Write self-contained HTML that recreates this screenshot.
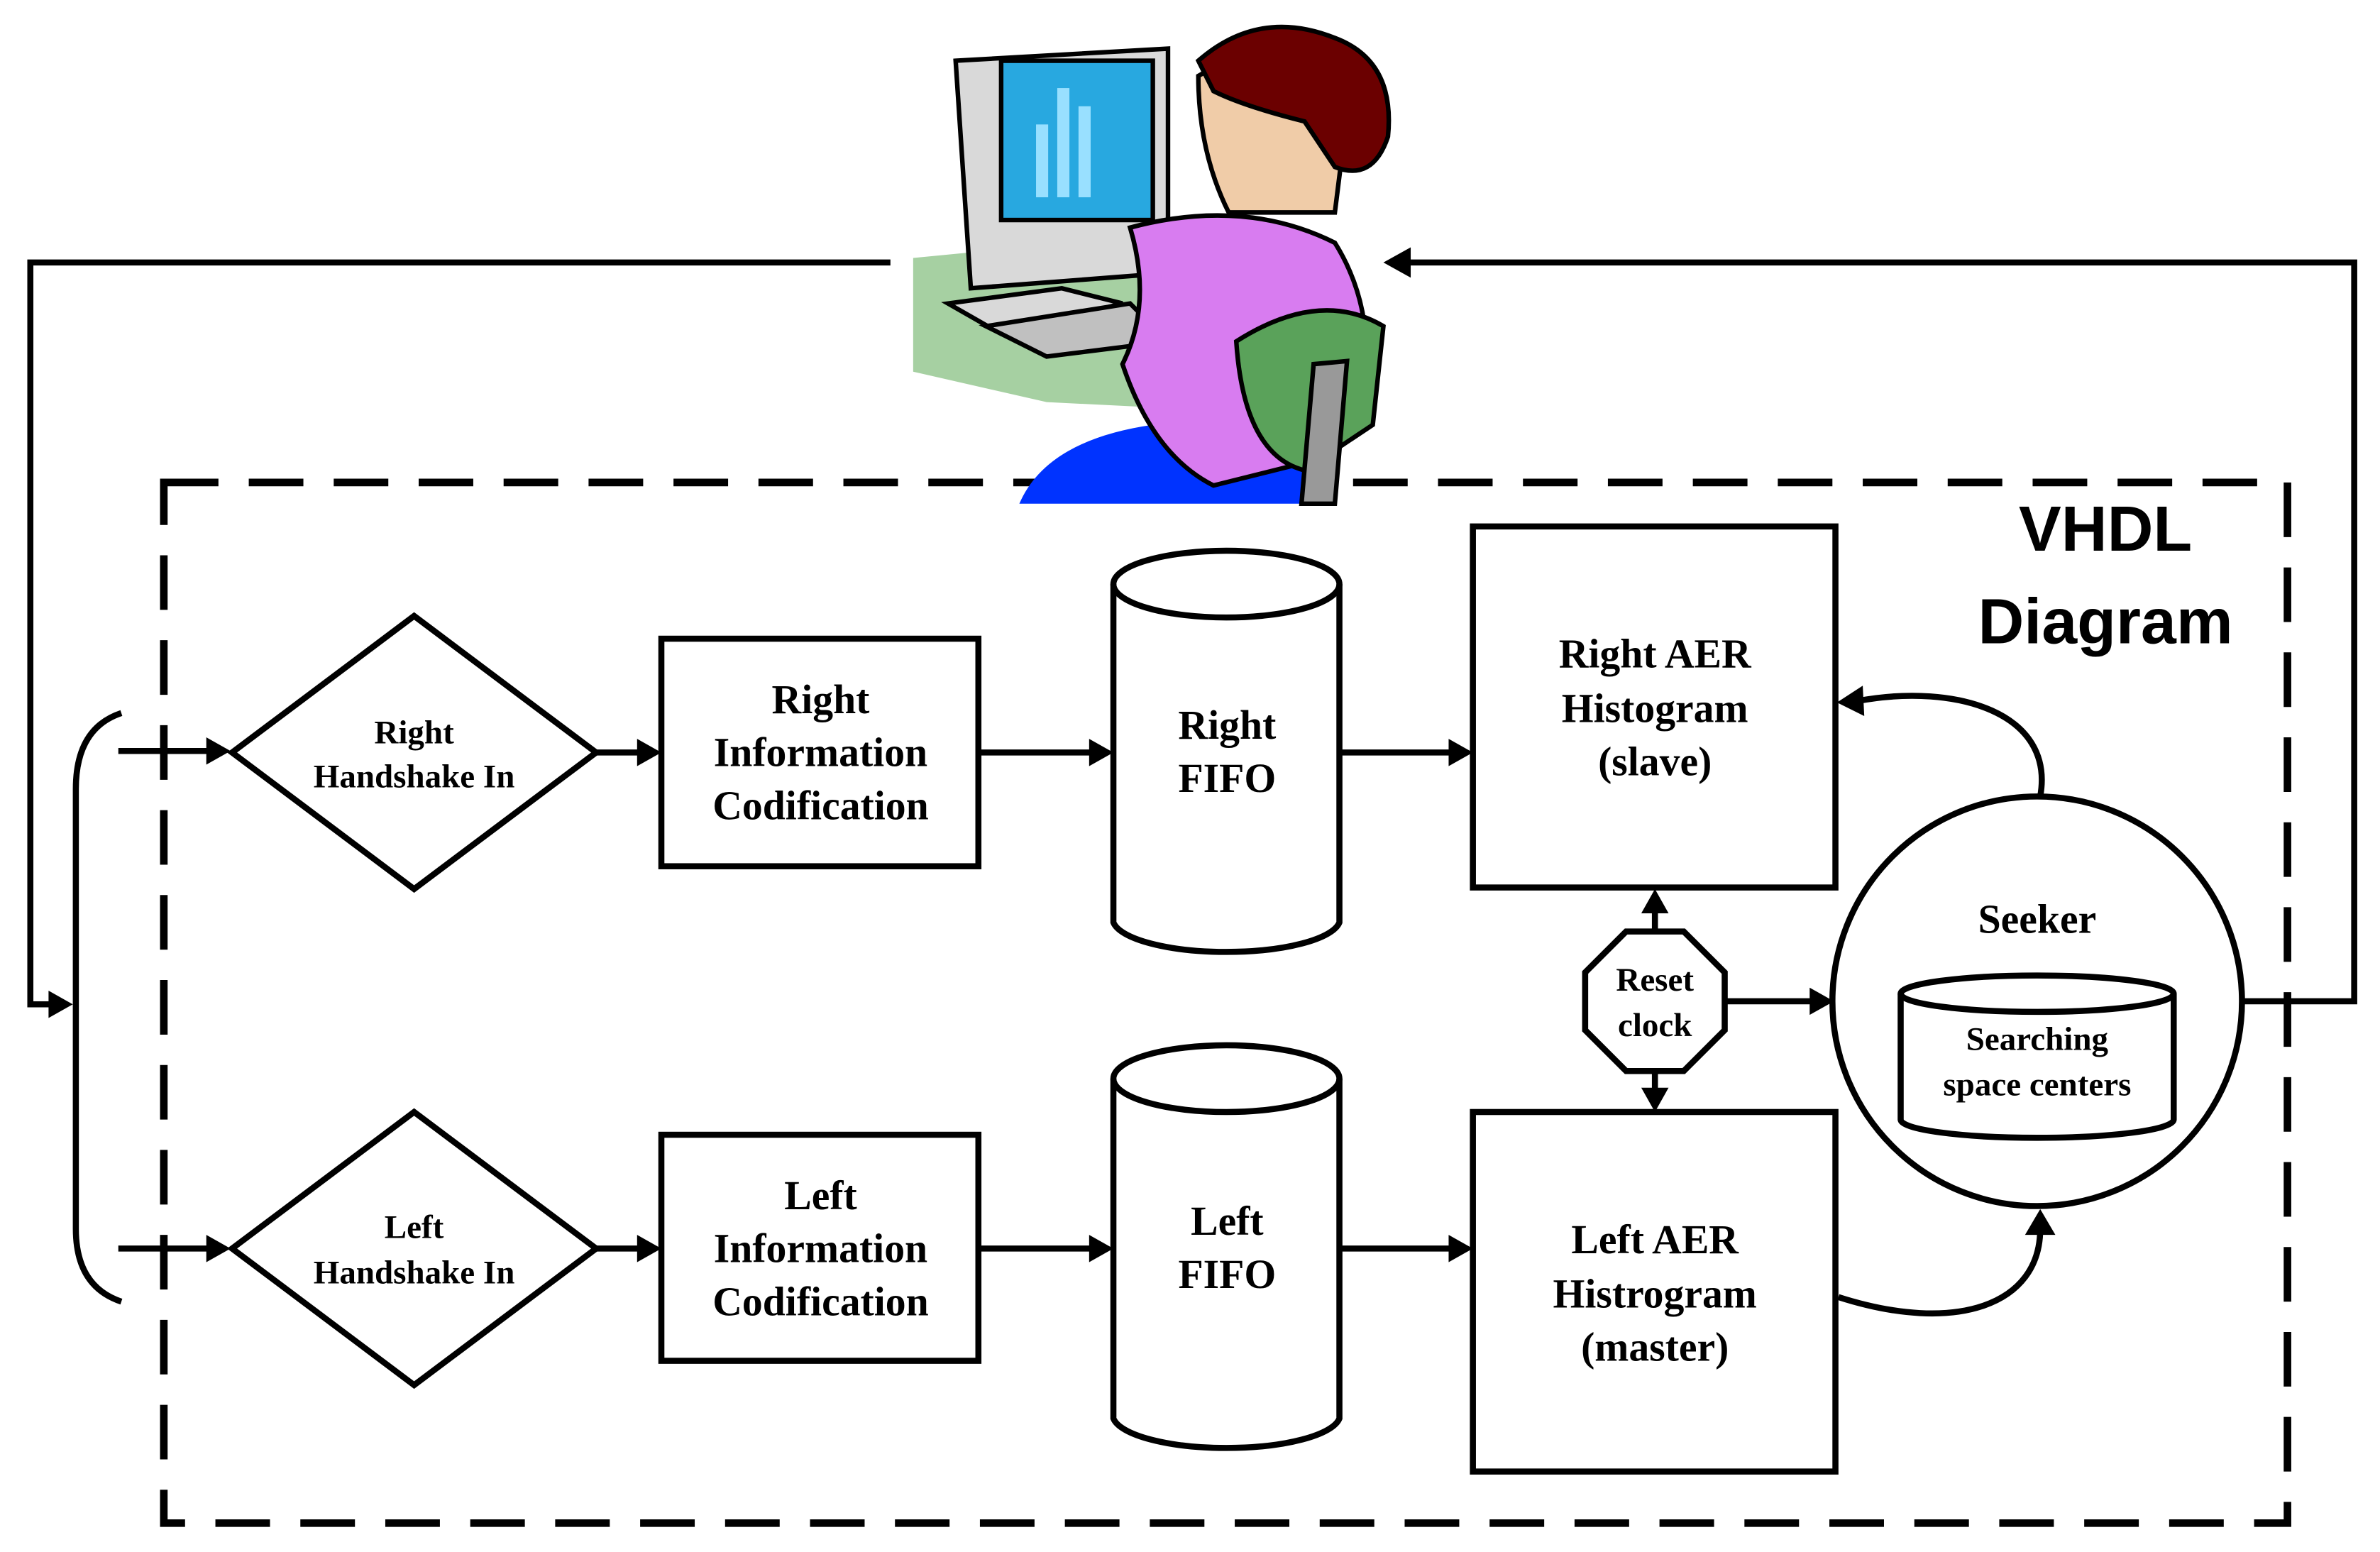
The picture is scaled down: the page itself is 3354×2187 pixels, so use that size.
<!DOCTYPE html>
<html><head><style>html,body{margin:0;padding:0;background:#fff;}svg{display:block}</style></head>
<body>
<svg width="3354" height="2187" viewBox="0 0 1569 1023" xmlns="http://www.w3.org/2000/svg">
<g fill="none" stroke="#000" stroke-width="4">
<polyline points="587,173 20,173 20,662 40,662"/>
<polyline points="1478,660 1552,660 1552,173 930,173"/>
<rect x="108" y="318" width="1400" height="686" stroke-width="5" stroke-dasharray="36,20"/>
<path d="M80,470 Q50,480 50,520 L50,810 Q50,848 80,858"/>
<line x1="78" y1="495" x2="140" y2="495"/>
<line x1="78" y1="823" x2="140" y2="823"/>
<polygon points="153,496 273,406 393,496 273,586" />
<polygon points="153,823 273,733 393,823 273,913" />
<line x1="393" y1="496" x2="424" y2="496"/>
<line x1="393" y1="823" x2="424" y2="823"/>
<rect x="436" y="421" width="209" height="150"/>
<rect x="436" y="748" width="209" height="149"/>
<line x1="645" y1="496" x2="722" y2="496"/>
<line x1="645" y1="823" x2="722" y2="823"/>
<path d="M734,385 L734,608 A75,22 0 0 0 883,608 L883,385"/>
<ellipse cx="808.5" cy="385" rx="74.5" ry="22"/>
<path d="M734,711 L734,935 A75,22 0 0 0 883,935 L883,711"/>
<ellipse cx="808.5" cy="711" rx="74.5" ry="22"/>
<line x1="883" y1="496" x2="958" y2="496"/>
<line x1="883" y1="823" x2="958" y2="823"/>
<rect x="971" y="347" width="239" height="238"/>
<rect x="971" y="733" width="239" height="237"/>
<polygon points="1072,614 1110,614 1137,641 1137,679 1110,706 1072,706 1045,679 1045,641"/>
<line x1="1091" y1="614" x2="1091" y2="598"/>
<line x1="1091" y1="706" x2="1091" y2="720"/>
<line x1="1137" y1="660" x2="1196" y2="660"/>
<circle cx="1343" cy="660" r="135"/>
<path d="M1253,655 L1253,738 A90,12 0 0 0 1433,738 L1433,655"/>
<ellipse cx="1343" cy="655" rx="90" ry="12"/>
<path d="M1345,525 C1355,470 1290,450 1225,462"/>
<path d="M1212,855 C1290,880 1345,860 1345,810"/>
</g>
<g fill="#000">
<polygon points="48,662 32,653 32,671"/>
<polygon points="912,173 930,163 930,183"/>
<polygon points="152,495 136,486 136,504"/>
<polygon points="152,823 136,814 136,832"/>
<polygon points="436,496 420,487 420,505"/>
<polygon points="436,823 420,814 420,832"/>
<polygon points="734,496 718,487 718,505"/>
<polygon points="734,823 718,814 718,832"/>
<polygon points="971,496 955,487 955,505"/>
<polygon points="971,823 955,814 955,832"/>
<polygon points="1091,586 1082,602 1100,602"/>
<polygon points="1091,733 1082,717 1100,717"/>
<polygon points="1209,660 1193,651 1193,669"/>
<polygon points="1211,463 1228,452 1229,472"/>
<polygon points="1345,797 1335,814 1355,814"/>
</g>
<g stroke="#000" stroke-width="3">
<polygon points="602,170 810,150 900,230 790,270 690,265 602,245" fill="#a6d0a2" stroke="none"/>
<polygon points="630,40 770,32 770,180 640,190" fill="#d9d9d9"/>
<rect x="660" y="40" width="100" height="105" fill="#28a8e0" stroke-width="3"/>
<rect x="683" y="82" width="8" height="48" fill="#99e0ff" stroke="none"/>
<rect x="697" y="58" width="8" height="72" fill="#99e0ff" stroke="none"/>
<rect x="711" y="70" width="8" height="60" fill="#99e0ff" stroke="none"/>
<polygon points="625,200 700,190 740,200 660,220" fill="#d9d9d9"/>
<polygon points="650,215 745,200 770,225 690,235" fill="#c0c0c0"/>
<path d="M672,332 Q690,290 760,280 L860,300 L860,332 Z" fill="#0033ff" stroke="none"/>
<path d="M745,150 Q820,130 880,160 Q905,200 900,250 L880,300 L800,320 Q760,300 740,240 Q760,200 745,150Z" fill="#d87cf0"/>
<path d="M790,50 Q840,20 890,60 L880,140 L810,140 Q790,100 790,50Z" fill="#f0cca8"/>
<path d="M790,40 Q830,5 880,25 Q920,40 915,90 Q905,120 880,110 L860,80 Q820,70 800,60Z" fill="#6b0000"/>
<path d="M815,225 Q870,190 912,215 L905,280 L860,310 Q820,300 815,225Z" fill="#5aa25a"/>
<polygon points="866,240 888,238 880,332 858,332" fill="#999"/>
</g>
<g font-family="Liberation Serif, serif" font-weight="bold" text-anchor="middle" fill="#000">
<text x="273" y="490" font-size="22">Right</text>
<text x="273" y="519" font-size="22">Handshake In</text>
<text x="273" y="816" font-size="22">Left</text>
<text x="273" y="846" font-size="22">Handshake In</text>
<g font-size="27">
<text x="541" y="470">Right</text>
<text x="541" y="505">Information</text>
<text x="541" y="540">Codification</text>
<text x="541" y="797">Left</text>
<text x="541" y="832">Information</text>
<text x="541" y="867">Codification</text>
<text x="809" y="487">Right</text>
<text x="809" y="522">FIFO</text>
<text x="809" y="814">Left</text>
<text x="809" y="849">FIFO</text>
<text x="1091" y="440">Right AER</text>
<text x="1091" y="476">Histogram</text>
<text x="1091" y="511">(slave)</text>
<text x="1091" y="826">Left AER</text>
<text x="1091" y="862">Histrogram</text>
<text x="1091" y="897">(master)</text>
<text x="1343" y="615">Seeker</text>
</g>
<text x="1091" y="653" font-size="22">Reset</text>
<text x="1091" y="683" font-size="22">clock</text>
<text x="1343" y="692" font-size="22">Searching</text>
<text x="1343" y="722" font-size="22">space centers</text>
</g>
<g font-family="Liberation Sans, sans-serif" font-weight="bold" text-anchor="middle" font-size="42" fill="#000">
<text x="1388" y="363">VHDL</text>
<text x="1388" y="424">Diagram</text>
</g>
</svg>
</body></html>
